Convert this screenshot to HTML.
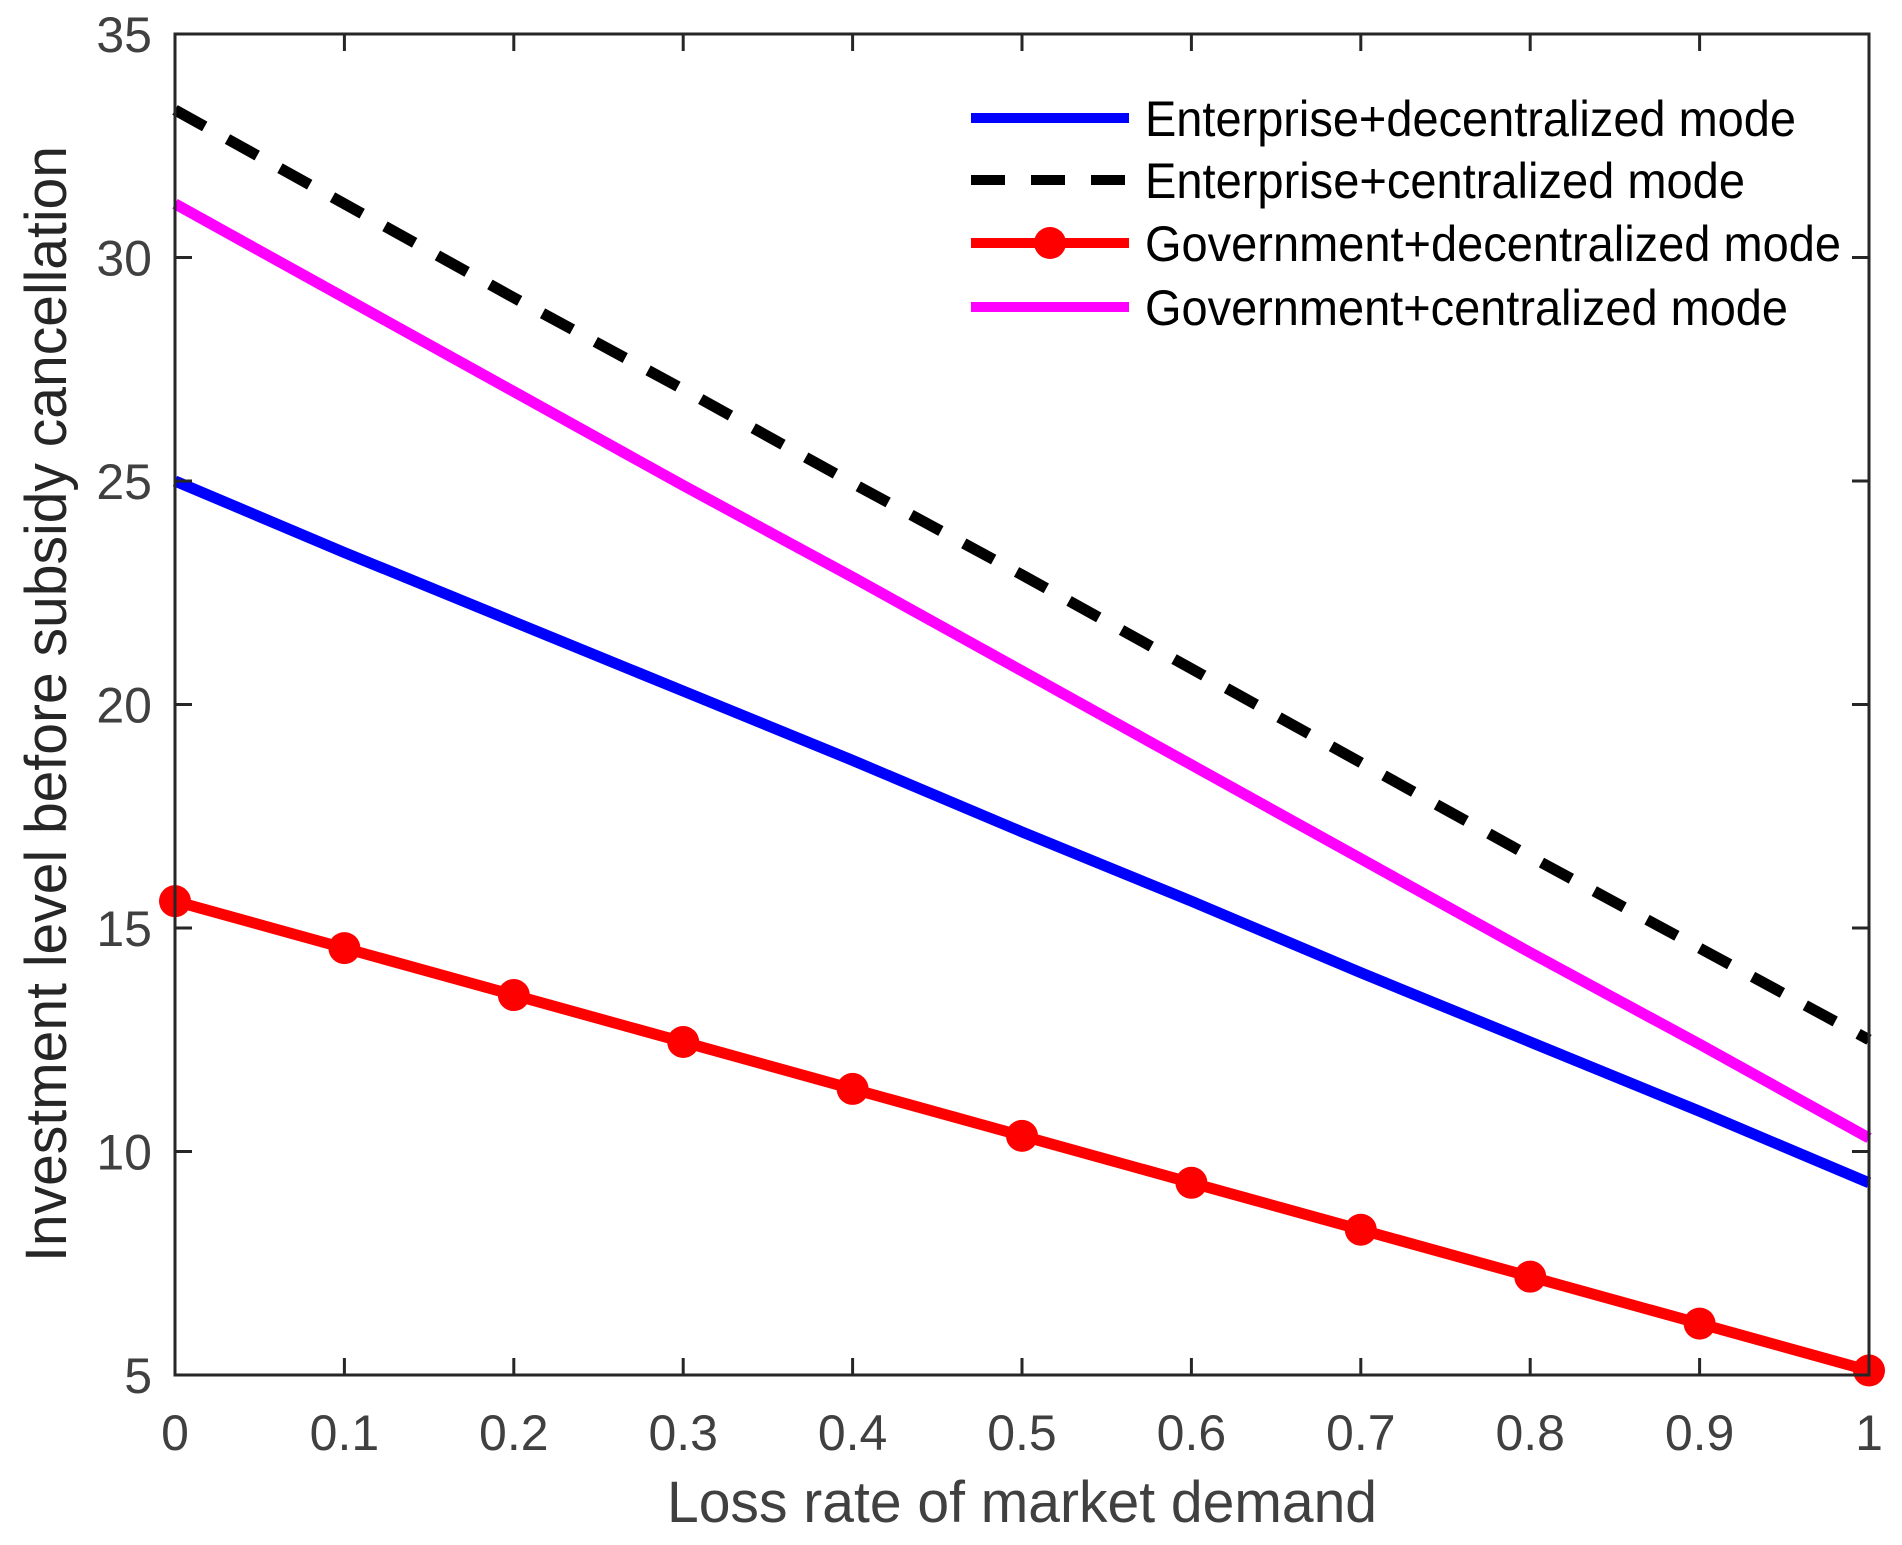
<!DOCTYPE html>
<html><head><meta charset="utf-8"><style>
html,body{margin:0;padding:0;background:#fff;}
svg{display:block;font-family:"Liberation Sans",Arial,sans-serif;}
</style></head><body>
<svg id="chart" width="1902" height="1545" viewBox="0 0 1902 1545" xmlns="http://www.w3.org/2000/svg">
<rect width="1902" height="1545" fill="#fff"/>
<g id="plot"></g>
</svg>
<script>
const xValues=[0,0.1,0.2,0.3,0.4,0.5,0.6,0.7,0.8,0.9,1];
const entDecentral=[25,23.4,21.85,20.3,18.75,17.15,15.6,14.0,12.45,10.9,9.3];
const entCentral=[33.3,31.2,29.1,27.05,24.95,22.9,20.8,18.7,16.6,14.55,12.5];
const govDecentral=[15.6,14.55,13.5,12.45,11.4,10.35,9.3,8.25,7.2,6.15,5.1];
const govCentral=[31.2,29.1,27.0,24.9,22.85,20.75,18.65,16.55,14.45,12.4,10.3];
const xTicks=[0,0.1,0.2,0.3,0.4,0.5,0.6,0.7,0.8,0.9,1];
const xTickLabels=["0","0.1","0.2","0.3","0.4","0.5","0.6","0.7","0.8","0.9","1"];
const yTicks=[5,10,15,20,25,30,35];
const yTickLabels=["5","10","15","20","25","30","35"];
const seriesNames=["Enterprise+decentralized mode","Enterprise+centralized mode","Government+decentralized mode","Government+centralized mode"];

const L=175,R=1869,T=34,B=1375;
const xs=v=>L+(v-0)/(1-0)*(R-L);
const ys=v=>B-(v-5)/(35-5)*(B-T);
const NS="http://www.w3.org/2000/svg";
const g=document.getElementById('plot');
function mk(tag,attrs,parent){const e=document.createElementNS(NS,tag);for(const k in attrs)e.setAttribute(k,attrs[k]);(parent||g).appendChild(e);return e;}

function poly(vals,color,dash,name){
  const p=mk('polyline',{points:vals.map((v,i)=>xs(xValues[i])+','+ys(v)).join(' '),fill:'none',stroke:color,'stroke-width':11,'stroke-linejoin':'round'});
  if(dash)p.setAttribute('stroke-dasharray',dash);
  
  
  return p;
}
poly(entDecentral,'#0000ff',null,'enterprise-decentralized-line');
poly(entCentral,'#000000','34 26','enterprise-centralized-line');
poly(govCentral,'#ff00ff',null,'government-centralized-line');
poly(govDecentral,'#ff0000',null,'government-decentralized-line');
govDecentral.forEach((v,i)=>{
  const c=mk('circle',{cx:xs(xValues[i]),cy:ys(v),r:16,fill:'#ff0000'});
  
  
});

const box=mk('rect',{x:L,y:T,width:R-L,height:B-T,fill:'none',stroke:'#262626','stroke-width':3});



xTicks.forEach((t,i)=>{
  const x=xs(t);
  mk('line',{x1:x,y1:B,x2:x,y2:B-17,stroke:'#262626','stroke-width':3});
  mk('line',{x1:x,y1:T,x2:x,y2:T+17,stroke:'#262626','stroke-width':3});
  const tx=mk('text',{x:x,y:1450,'text-anchor':'middle','font-size':50,fill:'#404040'});
  tx.textContent=xTickLabels[i];
  
  
});
yTicks.forEach((t,i)=>{
  const y=ys(t);
  mk('line',{x1:L,y1:y,x2:L+17,y2:y,stroke:'#262626','stroke-width':3});
  mk('line',{x1:R,y1:y,x2:R-17,y2:y,stroke:'#262626','stroke-width':3});
  const tx=mk('text',{x:152,y:y+18,'text-anchor':'end','font-size':50,fill:'#404040'});
  tx.textContent=yTickLabels[i];
  
  
});

const xt=mk('text',{x:1022,y:1522,'text-anchor':'middle','font-size':58,fill:'#404040',textLength:710,lengthAdjust:'spacingAndGlyphs'});
xt.textContent='Loss rate of market demand';


const yt=mk('text',{x:0,y:0,'text-anchor':'middle','font-size':58,fill:'#262626',textLength:1116,lengthAdjust:'spacingAndGlyphs',transform:'translate(66,704) rotate(-90)'});
yt.textContent='Investment level before subsidy cancellation';



const legY=[118,180,243,307];
const legCol=['#0000ff','#000000','#ff0000','#ff00ff'];
const legW=[651,600,696,643];
seriesNames.forEach((n,i)=>{
  const y=legY[i];
  const ln=mk('line',{x1:971,y1:y,x2:1129,y2:y,stroke:legCol[i],'stroke-width':10});
  if(i===1)ln.setAttribute('stroke-dasharray','34 26');
  
  
  if(i===2){const m=mk('circle',{cx:1050,cy:y,r:16,fill:'#ff0000'});}
  const tx=mk('text',{x:1145,y:y+18,'font-size':50,fill:'#000',textLength:legW[i],lengthAdjust:'spacingAndGlyphs'});
  tx.textContent=n;
  
  
});
</script>
</body></html>
